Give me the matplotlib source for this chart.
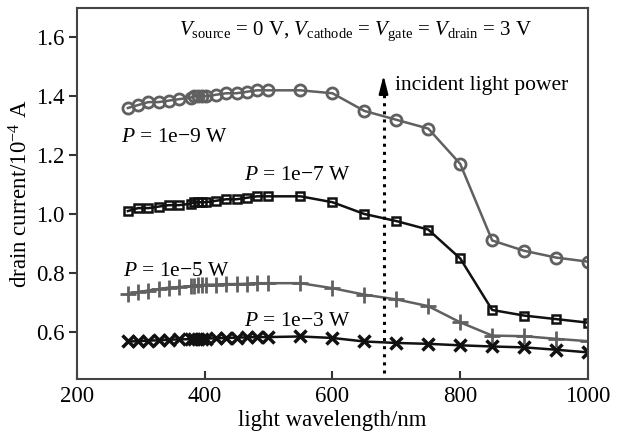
import numpy as np
import matplotlib.pyplot as plt

plt.rcParams['font.family'] = ['Liberation Serif', 'DejaVu Serif']
plt.rcParams['mathtext.fontset'] = 'custom'
plt.rcParams['mathtext.rm'] = 'Liberation Serif'
plt.rcParams['mathtext.it'] = 'Liberation Serif:italic'

# wavelengths (nm)
wl = [280, 296, 312, 328, 344, 360, 378, 384, 390, 396, 402,
      418, 434, 450, 466, 482, 500, 550, 600, 650, 700, 750, 800, 850, 900, 950, 1000]

# drain current (1e-4 A) for each incident power
i_1e9 = [1.36, 1.37, 1.38, 1.38, 1.385, 1.39, 1.395, 1.40, 1.40, 1.40, 1.40,
         1.405, 1.41, 1.41, 1.415, 1.42, 1.42, 1.42, 1.41, 1.35, 1.32, 1.29, 1.17, 0.91, 0.875, 0.852, 0.838]
i_1e7 = [1.01, 1.02, 1.02, 1.025, 1.03, 1.03, 1.035, 1.04, 1.04, 1.04, 1.04,
         1.045, 1.05, 1.05, 1.055, 1.06, 1.06, 1.06, 1.04, 1.00, 0.976, 0.947, 0.849, 0.674, 0.655, 0.643, 0.631]
i_1e5 = [0.728, 0.735, 0.74, 0.745, 0.75, 0.752, 0.755, 0.757, 0.758, 0.758, 0.76,
         0.76, 0.762, 0.762, 0.763, 0.765, 0.765, 0.765, 0.748, 0.726, 0.71, 0.687, 0.632, 0.587, 0.585, 0.576, 0.568]
i_1e3 = [0.567, 0.568, 0.570, 0.571, 0.573, 0.574, 0.575, 0.576, 0.576, 0.577, 0.577,
         0.578, 0.579, 0.580, 0.581, 0.582, 0.582, 0.584, 0.579, 0.567, 0.562, 0.559, 0.554, 0.550, 0.547, 0.539, 0.530]

fig = plt.figure(figsize=(6.19, 4.37), dpi=100)
ax = fig.add_axes([0.124, 0.133, 0.826, 0.849])

ax.plot(wl, i_1e9, color='#606060', lw=1.8, marker='o', ms=8, mfc='none', mew=2)
ax.plot(wl, i_1e7, color='#111111', lw=1.8, marker='s', ms=6, mfc='none', mew=1.8)
ax.plot(wl, i_1e5, color='#606060', lw=1.8, marker='+', ms=11, mew=2)
ax.plot(wl, i_1e3, color='#111111', lw=1.8, marker='x', ms=8, mew=2.5)

# dotted arrow: dotted shaft + solid filled head
ax.plot([680, 680], [0.46, 1.44], color='black', lw=2.2, linestyle=':')
ax.annotate('', xy=(680, 1.48), xytext=(680, 1.43),
            arrowprops=dict(arrowstyle='-|>,head_length=1.1,head_width=0.28',
                            color='black', lw=1.5))
ax.text(698, 1.438, 'incident light power', fontsize=15.5, va='center', ha='left')

ax.text(270, 1.259, r'$P$ = 1e$-$9 W', fontsize=15.5, va='center', ha='left')
ax.text(462, 1.13, r'$P$ = 1e$-$7 W', fontsize=15.5, va='center', ha='left')
ax.text(273, 0.804, r'$P$ = 1e$-$5 W', fontsize=15.5, va='center', ha='left')
ax.text(462, 0.635, r'$P$ = 1e$-$3 W', fontsize=15.5, va='center', ha='left')

ax.text(636, 1.622,
        r'$V_{\rm source}$ = 0 V, $V_{\rm cathode}$ = $V_{\rm gate}$ = $V_{\rm drain}$ = 3 V',
        fontsize=15, va='center', ha='center')

ax.set_xlim(200, 1000)
ax.set_ylim(0.44, 1.7)
ax.set_xticks([200, 400, 600, 800, 1000])
ax.set_yticks([0.6, 0.8, 1.0, 1.2, 1.4, 1.6])
ax.set_yticklabels(['0.6', '0.8', '1.0', '1.2', '1.4', '1.6'])
ax.tick_params(axis='x', direction='in', length=6, width=1.5, labelsize=16.5, pad=5, color='#333333')
ax.tick_params(axis='y', direction='out', length=6, width=1.5, labelsize=16.5, pad=3, color='#333333')
for s in ax.spines.values():
    s.set_color('#444444')
    s.set_linewidth(1.5)

ax.set_xlabel('light wavelength/nm', fontsize=16.5, labelpad=2)
ax.set_ylabel(r'drain current/10$^{-4}$ A', fontsize=16.5, labelpad=2)

fig.savefig('out.png', dpi=100)
